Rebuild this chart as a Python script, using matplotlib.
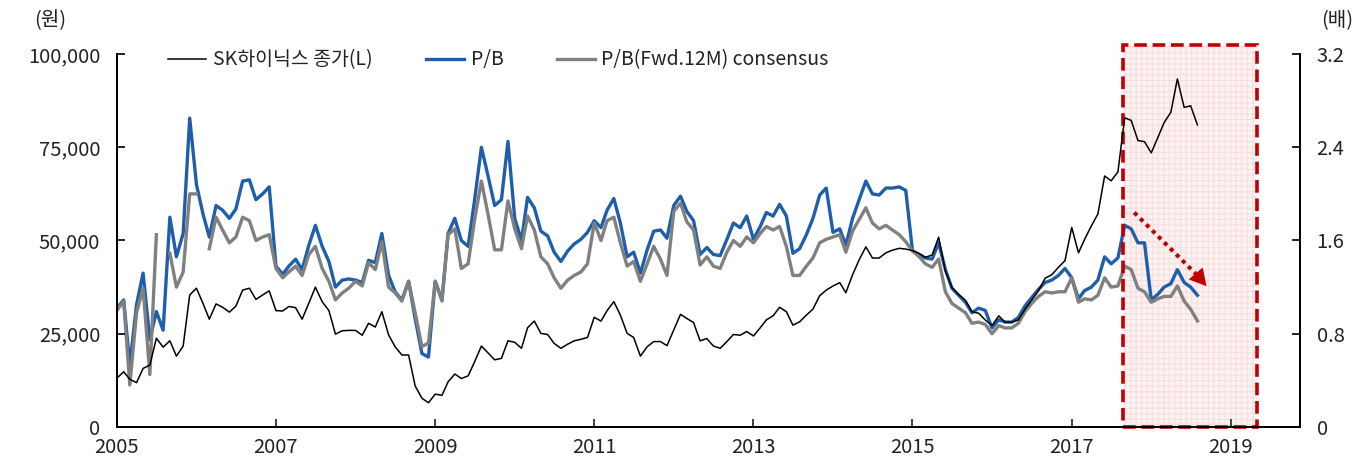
import numpy as np
import pandas as pd
import matplotlib
matplotlib.use('Agg')
import matplotlib.pyplot as plt
import matplotlib.dates as mdates
from matplotlib.patches import Rectangle
from matplotlib.ticker import FuncFormatter

plt.rcParams['font.family'] = ['Noto Sans CJK KR', 'DejaVu Sans']
plt.rcParams['hatch.linewidth'] = 0.8

# 월말 데이터, 2005.01 ~ 2018.08
months = pd.date_range('2005-01-01', periods=164, freq='MS')

# SK하이닉스 종가 (천원)
price_k = [
    13.1, 14.8, 12.8, 11.9, 15.7, 16.6, 23.8, 21.4, 23.1, 19.0, 21.7, 35.4,
    37.2, 33.0, 28.9, 33.0, 32.1, 30.8, 32.4, 36.7, 37.2, 34.2, 35.4, 36.5,
    31.2, 31.1, 32.3, 32.0, 28.9, 33.2, 37.5, 33.6, 31.2, 24.9, 25.8, 25.9,
    25.9, 24.6, 27.8, 26.8, 30.9, 24.7, 21.5, 19.3, 19.3, 11.0, 7.7, 6.5,
    8.8, 8.5, 12.1, 14.2, 13.0, 13.7, 17.5, 21.7, 19.8, 18.0, 18.4, 23.1,
    22.7, 21.1, 26.6, 28.4, 25.1, 24.8, 22.4, 21.1, 22.2, 23.1, 23.5, 24.0,
    29.4, 28.4, 31.2, 33.6, 30.0, 25.1, 24.0, 19.0, 21.5, 22.9, 22.9, 21.8,
    26.0, 30.2, 29.1, 28.0, 23.1, 23.7, 21.7, 21.1, 22.9, 24.8, 24.6, 25.6,
    24.4, 26.6, 28.7, 29.8, 32.1, 30.9, 27.3, 28.2, 30.0, 31.6, 35.2, 36.7,
    37.8, 38.7, 36.0, 40.8, 44.8, 48.3, 45.3, 45.3, 46.7, 47.4, 47.9, 47.7,
    47.3, 46.5, 45.5, 46.1, 50.9, 41.8, 37.4, 35.5, 34.0, 30.9, 30.5, 28.7,
    27.2, 29.8, 28.1, 28.1, 28.7, 31.6, 34.0, 36.5, 39.9, 40.8, 42.8, 44.6,
    53.5, 46.7, 50.3, 53.9, 57.1, 67.3, 66.0, 68.4, 82.9, 82.2, 76.8, 76.5,
    73.5, 77.7, 81.6, 84.4, 93.3, 85.7, 86.1, 81.0,
]
price = np.array(price_k) * 1000

# P/B (배)
pb = [
    1.02, 1.09, 0.53, 1.05, 1.32, 0.75, 0.99, 0.83, 1.80, 1.46, 1.66, 2.65,
    2.08, 1.82, 1.63, 1.90, 1.86, 1.79, 1.87, 2.11, 2.12, 1.95, 2.00, 2.06,
    1.38, 1.31, 1.38, 1.44, 1.35, 1.56, 1.73, 1.55, 1.42, 1.20, 1.26, 1.27,
    1.26, 1.24, 1.43, 1.41, 1.66, 1.30, 1.16, 1.09, 1.25, 0.93, 0.63, 0.60,
    1.25, 1.09, 1.66, 1.79, 1.60, 1.55, 1.95, 2.40, 2.15, 1.90, 1.95, 2.45,
    1.79, 1.60, 1.97, 1.88, 1.68, 1.64, 1.50, 1.42, 1.51, 1.57, 1.61, 1.67,
    1.77, 1.71, 1.86, 1.96, 1.75, 1.46, 1.50, 1.32, 1.52, 1.68, 1.69, 1.62,
    1.90, 1.98, 1.85, 1.77, 1.48, 1.54, 1.48, 1.47, 1.61, 1.75, 1.71, 1.81,
    1.61, 1.72, 1.84, 1.81, 1.91, 1.81, 1.49, 1.53, 1.65, 1.79, 1.99, 2.05,
    1.67, 1.70, 1.56, 1.79, 1.95, 2.11, 2.00, 1.99, 2.05, 2.05, 2.06, 2.03,
    1.51, 1.48, 1.45, 1.44, 1.58, 1.35, 1.19, 1.13, 1.07, 0.98, 1.02, 1.00,
    0.85, 0.92, 0.90, 0.90, 0.94, 1.04, 1.11, 1.18, 1.24, 1.26, 1.30, 1.36,
    1.28, 1.10, 1.17, 1.20, 1.26, 1.46, 1.40, 1.45, 1.73, 1.70, 1.58, 1.58,
    1.09, 1.14, 1.20, 1.23, 1.35, 1.24, 1.20, 1.13,
]

# P/B(Fwd.12M) consensus (배), 빈 달은 nan
pb_fwd = [
    1.00, 1.08, 0.36, 0.98, 1.19, 0.45, 1.65, np.nan, 1.49, 1.20, 1.33, 2.00,
    2.00, np.nan, 1.53, 1.80, 1.69, 1.58, 1.63, 1.80, 1.77, 1.60, 1.63, 1.65,
    1.36, 1.28, 1.33, 1.38, 1.30, 1.48, 1.55, 1.36, 1.25, 1.09, 1.15, 1.19,
    1.25, 1.21, 1.41, 1.35, 1.59, 1.20, 1.15, 1.08, 1.25, 0.98, 0.69, 0.72,
    1.25, 1.08, 1.65, 1.70, 1.36, 1.40, 1.78, 2.11, 1.82, 1.52, 1.52, 1.94,
    1.70, 1.53, 1.81, 1.69, 1.46, 1.40, 1.28, 1.19, 1.26, 1.30, 1.33, 1.40,
    1.75, 1.60, 1.77, 1.80, 1.58, 1.38, 1.42, 1.25, 1.40, 1.55, 1.44, 1.30,
    1.85, 1.92, 1.76, 1.69, 1.39, 1.46, 1.38, 1.36, 1.50, 1.60, 1.55, 1.63,
    1.58, 1.66, 1.72, 1.69, 1.72, 1.55, 1.30, 1.30, 1.38, 1.45, 1.58, 1.61,
    1.63, 1.65, 1.50, 1.68, 1.78, 1.88, 1.75, 1.70, 1.73, 1.69, 1.65, 1.59,
    1.51, 1.46, 1.40, 1.37, 1.44, 1.16, 1.06, 1.02, 0.98, 0.89, 0.90, 0.88,
    0.80, 0.87, 0.85, 0.85, 0.89, 0.99, 1.06, 1.12, 1.16, 1.15, 1.16, 1.16,
    1.28, 1.07, 1.10, 1.09, 1.13, 1.28, 1.20, 1.21, 1.38, 1.35, 1.19, 1.16,
    1.07, 1.10, 1.12, 1.12, 1.21, 1.08, 1.01, 0.91,
]

years = [2005, 2007, 2009, 2011, 2013, 2015, 2017, 2019]
left_ticks = [0, 25000, 50000, 75000, 100000]
right_ticks = [0, 0.8, 1.6, 2.4, 3.2]
right_labels = ['0', '0.8', '1.6', '2.4', '3.2']

RED = '#c00000'
BLUE = '#1f5eaa'
GRAY = '#808080'
FS = 14.5

fig = plt.figure(figsize=(13.63, 4.73), dpi=100)
ax = fig.add_axes([0.0858, 0.0973, 0.868, 0.7885])
ax2 = ax.twinx()
ax.set_zorder(ax2.get_zorder() + 1)
ax.patch.set_visible(False)

# 강조 박스 (2017.9 ~ 2019.4)
x0 = mdates.date2num(pd.Timestamp('2017-08-25'))
x1 = mdates.date2num(pd.Timestamp('2019-05-01'))
box_fill = Rectangle((x0, 0), x1 - x0, 3.28, facecolor='#fdf2f2', edgecolor='#f7dede',
                     hatch='+++', linewidth=0, clip_on=False, zorder=0)
ax2.add_patch(box_fill)
box_edge = Rectangle((x0, 0), x1 - x0, 3.28, fill=False, edgecolor=RED, linewidth=2.6,
                     linestyle=(0, (3.5, 1.6)), clip_on=False, zorder=5)
ax2.add_patch(box_edge)

l2, = ax2.plot(months, pb, color=BLUE, lw=2.4, zorder=2)
l3, = ax2.plot(months, pb_fwd, color=GRAY, lw=2.4, zorder=3)
l1, = ax.plot(months, price, color='black', lw=1.1, zorder=4)

# 하락 화살표
a0 = mdates.date2num(pd.Timestamp('2017-10-15'))
a1 = mdates.date2num(pd.Timestamp('2018-08-01'))
a2 = mdates.date2num(pd.Timestamp('2018-09-20'))
ax2.plot([a0, a1], [1.84, 1.30], color=RED, lw=2.9, linestyle=(0, (1, 1.1)), zorder=6)
ax2.annotate('', xy=(a2, 1.19), xytext=(a1, 1.30),
             arrowprops=dict(arrowstyle='-|>,head_length=1.0,head_width=0.55',
                             color=RED, lw=0, mutation_scale=12), zorder=6)

ax.set_xlim(pd.Timestamp('2005-01-01'), pd.Timestamp('2019-11-15'))
ax.set_ylim(0, 100000)
ax2.set_ylim(0, 3.2)

ax.set_xticks([pd.Timestamp(f'{y}-01-01') for y in years])
ax.xaxis.set_major_formatter(mdates.DateFormatter('%Y'))
ax.set_yticks(left_ticks)
ax.yaxis.set_major_formatter(FuncFormatter(lambda v, p: f'{int(v):,}'))
ax2.set_yticks(right_ticks)
ax2.set_yticklabels(right_labels)

for a in (ax, ax2):
    a.spines['top'].set_visible(False)
    for s in a.spines.values():
        s.set_linewidth(1.4)
        s.set_color('black')
ax.tick_params(axis='y', direction='in', length=6, width=1.4, labelsize=FS, pad=12, colors='#222222')
ax.tick_params(axis='x', direction='in', length=6, width=1.2, labelsize=FS, pad=7, colors='#222222')
ax2.tick_params(axis='y', direction='in', length=6, width=1.4, labelsize=FS, pad=12, colors='#222222')

fig.text(50 / 1363, 1 - 21 / 473, '(원)', ha='center', va='center', fontsize=FS, color='#222222')
fig.text(1337 / 1363, 1 - 21 / 473, '(배)', ha='center', va='center', fontsize=FS, color='#222222')

ax.legend([l1, l2, l3], ['SK하이닉스 종가(L)', 'P/B', 'P/B(Fwd.12M) consensus'],
          loc='center left', bbox_to_anchor=(168 / 1363, 1 - 60 / 473),
          bbox_transform=fig.transFigure, ncol=3, frameon=False, fontsize=14,
          handlelength=1.95, handletextpad=0.35, columnspacing=2.75,
          borderpad=0, borderaxespad=0, labelcolor='#222222')

fig.savefig('out.png', dpi=100)
